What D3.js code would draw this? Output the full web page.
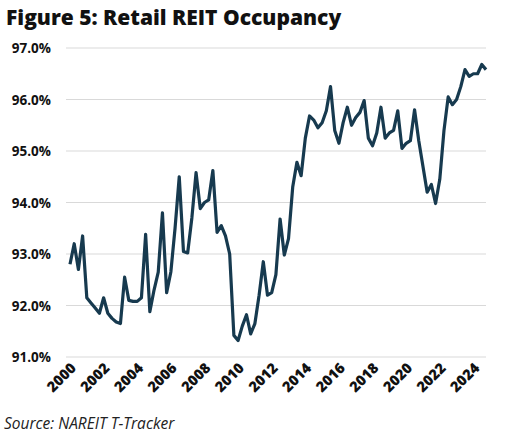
<!DOCTYPE html>
<html><head><meta charset="utf-8">
<script src="https://cdn.jsdelivr.net/npm/d3@7"></script>
<style>body{margin:0;background:#fff}</style></head>
<body><svg id="c" width="516" height="435"></svg>
<script>
const startYear = 2000;
const values = [
92.8,93.2,92.7,93.35, 92.15,92.05,91.95,91.85, 92.15,91.85,91.75,91.68,
91.65,92.55,92.1,92.08, 92.08,92.15,93.38,91.88, 92.3,92.65,93.8,92.25,
92.65,93.5,94.5,93.05, 93.02,93.7,94.58,93.88, 94.0,94.05,94.62,93.42,
93.55,93.35,93.0,91.42, 91.32,91.6,91.82,91.45, 91.65,92.2,92.85,92.2,
92.25,92.6,93.68,92.98, 93.3,94.3,94.78,94.52, 95.25,95.68,95.6,95.45,
95.55,95.78,96.25,95.4, 95.15,95.55,95.85,95.5, 95.65,95.75,95.98,95.25,
95.1,95.35,95.85,95.25, 95.35,95.4,95.78,95.05, 95.15,95.2,95.8,95.2,
94.7,94.2,94.35,93.98, 94.45,95.4,96.05,95.9, 96.0,96.25,96.58,96.45,
96.5,96.5,96.68,96.58];
const yTicks = [91,92,93,94,95,96,97];
const xTicks = [2000,2002,2004,2006,2008,2010,2012,2014,2016,2018,2020,2022,2024];

const svg = d3.select("#c");
const x = d3.scaleLinear().domain([2000, 2024.75]).range([70, 486]);
const y = d3.scaleLinear().domain([91, 97]).range([357, 48]);

svg.append("text").attr("x",6).attr("y",25).text("Figure 5: Retail REIT Occupancy")
  .attr("font-family","Open Sans").attr("font-weight",800).attr("font-size",21).attr("fill","#111");

const gy = svg.append("g");
yTicks.forEach(t=>{
  gy.append("line").attr("x1",66).attr("x2",486).attr("y1",y(t)).attr("y2",y(t))
    .attr("stroke","#d9d9d9").attr("stroke-width",1.2);
  gy.append("text").attr("x",51).attr("y",y(t)+5).attr("text-anchor","end")
    .attr("font-family","Open Sans").attr("font-weight",700).attr("font-size",13.5).attr("fill","#111")
    .text(t.toFixed(1)+"%");
});
xTicks.forEach(t=>{
  svg.append("text").attr("transform",`translate(${x(t)+7},${369}) rotate(-45)`)
    .attr("text-anchor","end").attr("font-family","Open Sans").attr("font-weight",800)
    .attr("font-size",14.5).attr("fill","#111").text(t);
});
const line = d3.line().x((d,i)=>x(startYear+i/4)).y(d=>y(d));
svg.append("path").datum(values).attr("d",line).attr("fill","none")
  .attr("stroke","#173a4f").attr("stroke-width",3.2).attr("stroke-linejoin","round");

svg.append("text").attr("x",4).attr("y",429).text("Source: NAREIT T-Tracker")
  .attr("font-family","Open Sans").attr("font-style","italic").attr("font-size",15.5).attr("fill","#222");
</script></body></html>
